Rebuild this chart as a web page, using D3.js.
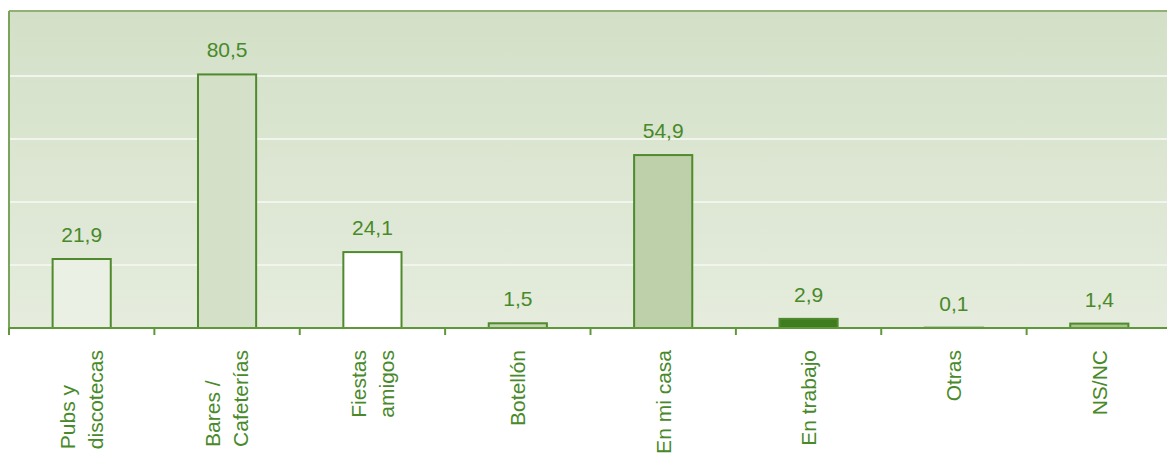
<!DOCTYPE html>
<html>
<head>
<meta charset="utf-8">
<script src="https://cdn.jsdelivr.net/npm/d3@7"></script>
<style>
  html, body { margin: 0; padding: 0; background: #fff; }
  svg { display: block; font-family: "Liberation Sans", Arial, sans-serif; }
</style>
</head>
<body>
<svg id="svg" width="1167" height="454"></svg>
<script>
// --- Data ---
const categories = [
    ['Pubs y', 'discotecas'],
    ['Bares /', 'Cafeterías'],
    ['Fiestas', 'amigos'],
    ['Botellón'],
    ['En mi casa'],
    ['En trabajo'],
    ['Otras'],
    ['NS/NC'],
];
const values     = [21.9, 80.5, 24.1, 1.5, 54.9, 2.9, 0.1, 1.4];
const valueText  = ['21,9', '80,5', '24,1', '1,5', '54,9', '2,9', '0,1', '1,4'];
const barFills   = ['#ebf0e4', '#d4e0c8', '#ffffff', '#c3d5b0', '#bdd0a9', '#3f7b1f', '#a9c48f', '#a9c48f'];
const gridTicks  = [20, 40, 60, 80];

const TEXT  = '#48892a';
const LINE  = '#5e9838';

const svg = d3.select('#svg');
const plotTop = 11, base = 328, left = 9, right = 1172;

const x = d3.scaleBand()
    .domain(d3.range(categories.length))
    .range([left, right])
    .paddingInner(0);

const y = d3.scaleLinear()
    .domain([0, 100])
    .range([base, 13]);

// --- Background ---
const defs = svg.append('defs');
const grad = defs.append('linearGradient')
    .attr('id', 'bg').attr('x1', 0).attr('y1', 0).attr('x2', 0).attr('y2', 1);
grad.append('stop').attr('offset', '0%').attr('stop-color', '#d3e0c7');
grad.append('stop').attr('offset', '100%').attr('stop-color', '#e5ecdd');

svg.append('rect')
    .attr('x', left).attr('y', plotTop)
    .attr('width', right - left).attr('height', base - plotTop)
    .attr('fill', 'url(#bg)');

// gridlines
svg.append('g')
    .selectAll('line')
    .data(gridTicks).join('line')
    .attr('x1', left).attr('x2', right)
    .attr('y1', d => y(d)).attr('y2', d => y(d))
    .attr('stroke', '#f2f5ee')
    .attr('stroke-width', 2);

// frame: top and left
svg.append('line')
    .attr('x1', left).attr('x2', right)
    .attr('y1', plotTop).attr('y2', plotTop)
    .attr('stroke', '#90b075').attr('stroke-width', 2);
svg.append('line')
    .attr('x1', left).attr('x2', left)
    .attr('y1', plotTop).attr('y2', base)
    .attr('stroke', '#78a55a').attr('stroke-width', 2);

// --- Bars ---
const bw = x.bandwidth() * 0.4;

svg.append('g')
    .selectAll('rect')
    .data(values).join('rect')
    .attr('x', (d, i) => x(i) + (x.bandwidth() - bw) / 2)
    .attr('y', d => y(d))
    .attr('width', bw)
    .attr('height', d => base - y(d))
    .attr('fill', (d, i) => barFills[i])
    .attr('stroke', '#4f8a2d')
    .attr('stroke-width', 2);

// value labels
svg.append('g')
    .selectAll('text')
    .data(values).join('text')
    .attr('x', (d, i) => x(i) + x.bandwidth() / 2)
    .attr('y', d => y(d) - 17)
    .attr('text-anchor', 'middle')
    .attr('font-size', '21px')
    .attr('fill', TEXT)
    .text((d, i) => valueText[i]);

// --- Axis ---
const axis = d3.axisBottom(x).tickSize(0).tickFormat('');
const gx = svg.append('g')
    .attr('transform', `translate(0,${base})`)
    .call(axis);
gx.select('.domain').remove();

svg.append('line')
    .attr('x1', left).attr('x2', right)
    .attr('y1', base).attr('y2', base)
    .attr('stroke', LINE).attr('stroke-width', 2);

// tick marks on band boundaries
svg.append('g')
    .selectAll('line')
    .data(d3.range(categories.length)).join('line')
    .attr('x1', i => x(i)).attr('x2', i => x(i))
    .attr('y1', base).attr('y2', base + 7)
    .attr('stroke', LINE).attr('stroke-width', 2);

// category labels, rotated, block right-aligned under axis, lines left-aligned
const labelTop = 350;
const lineGap = 28;

categories.forEach((lines, i) => {
    const cx = x(i) + x.bandwidth() / 2;
    const g = svg.append('g');
    const texts = lines.map((s, j) => g.append('text')
        .attr('font-size', '21px')
        .attr('fill', TEXT)
        .attr('text-anchor', 'start')
        .attr('dy', '0.35em')
        .text(s));
    const maxW = d3.max(texts, t => t.node().getComputedTextLength());
    texts.forEach((t, j) => {
        const lx = cx + (j - (lines.length - 1) / 2) * lineGap;
        const ly = labelTop + maxW;
        t.attr('transform', `translate(${lx},${ly}) rotate(-90)`);
    });
});
</script>
</body>
</html>
